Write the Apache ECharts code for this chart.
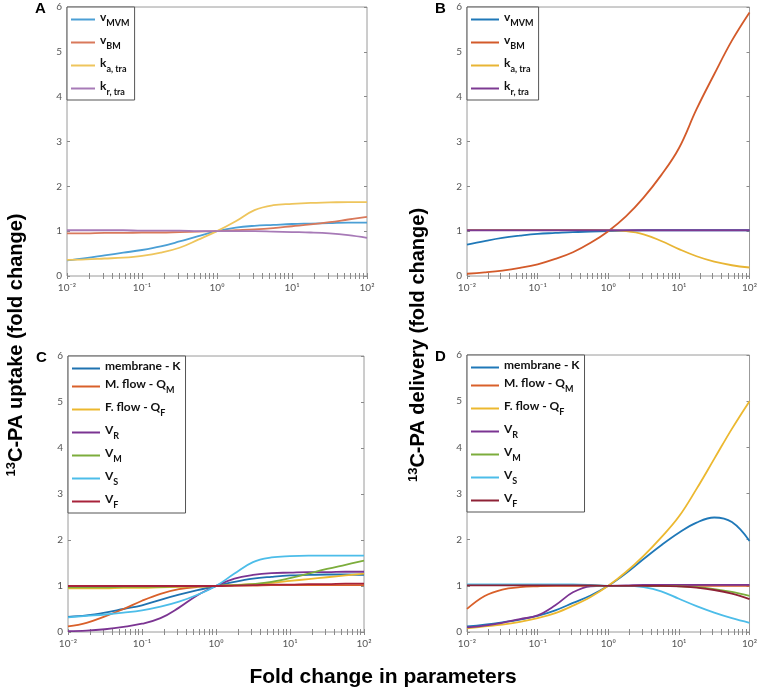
<!DOCTYPE html>
<html>
<head>
<meta charset="utf-8">
<script src="https://cdn.jsdelivr.net/npm/echarts@6/dist/echarts.min.js"></script>
<style>
  html, body { margin: 0; padding: 0; background: #fff; }
  #chart { width: 760px; height: 690px; }
</style>
</head>
<body>
<div id="chart"></div>
<script>
// log10 of the x values (fold change in parameters)
const xExp = [-2, -1.75, -1.5, -1.25, -1, -0.75, -0.5, -0.25, 0, 0.25, 0.5, 0.75, 1, 1.25, 1.5, 1.75, 2]
const xTickLabels = ["10\u207b\u00b2", "10\u207b\u00b9", "10\u2070", "10\u00b9", "10\u00b2"]
const yTicks = [0, 1, 2, 3, 4, 5, 6]

// panel A - uptake
const aMVM = [0.35, 0.40, 0.46, 0.52, 0.58, 0.66, 0.77, 0.89, 1.00, 1.08, 1.12, 1.14, 1.16, 1.17, 1.18, 1.19, 1.19]
const aBM = [0.95, 0.95, 0.96, 0.96, 0.97, 0.97, 0.98, 0.99, 1.00, 1.02, 1.04, 1.07, 1.11, 1.15, 1.20, 1.26, 1.32]
const aKa = [0.36, 0.37, 0.39, 0.41, 0.45, 0.52, 0.63, 0.81, 1.00, 1.22, 1.47, 1.58, 1.61, 1.63, 1.64, 1.65, 1.65]
const aKr = [1.02, 1.02, 1.02, 1.02, 1.01, 1.01, 1.01, 1.00, 1.00, 1.00, 1.00, 0.99, 0.98, 0.97, 0.95, 0.91, 0.85]

// panel B - delivery
const bMVM = [0.70, 0.78, 0.85, 0.90, 0.94, 0.96, 0.98, 0.99, 1.00, 1.01, 1.02, 1.02, 1.02, 1.02, 1.02, 1.02, 1.02]
const bBM = [0.05, 0.08, 0.12, 0.18, 0.26, 0.38, 0.53, 0.74, 1.00, 1.33, 1.75, 2.25, 2.85, 3.72, 4.50, 5.25, 5.88]
const bKa = [1.03, 1.03, 1.03, 1.03, 1.03, 1.03, 1.03, 1.03, 1.02, 1.00, 0.93, 0.78, 0.60, 0.44, 0.32, 0.24, 0.19]
const bKr = [1.02, 1.02, 1.02, 1.02, 1.02, 1.02, 1.02, 1.02, 1.02, 1.02, 1.02, 1.02, 1.02, 1.02, 1.02, 1.02, 1.02]

// panel C - uptake
const cK = [0.33, 0.36, 0.42, 0.50, 0.58, 0.70, 0.81, 0.91, 1.00, 1.09, 1.16, 1.20, 1.23, 1.24, 1.25, 1.25, 1.24]
const cQM = [0.12, 0.20, 0.34, 0.50, 0.68, 0.83, 0.93, 0.98, 1.00, 1.01, 1.01, 1.02, 1.02, 1.02, 1.02, 1.02, 1.02]
const cQF = [0.95, 0.95, 0.95, 0.96, 0.96, 0.97, 0.98, 0.99, 1.00, 1.02, 1.04, 1.07, 1.11, 1.15, 1.19, 1.23, 1.27]
const cVR = [0.02, 0.03, 0.06, 0.11, 0.18, 0.30, 0.53, 0.80, 1.00, 1.16, 1.24, 1.28, 1.29, 1.30, 1.30, 1.31, 1.31]
const cVM = [0.97, 0.97, 0.97, 0.98, 0.98, 0.98, 0.99, 0.99, 1.00, 1.02, 1.04, 1.09, 1.17, 1.27, 1.37, 1.46, 1.55]
const cVS = [0.32, 0.35, 0.38, 0.42, 0.47, 0.55, 0.66, 0.81, 1.00, 1.27, 1.52, 1.62, 1.65, 1.66, 1.66, 1.66, 1.66]
const cVF = [1.00, 1.00, 1.00, 1.00, 1.00, 1.00, 1.00, 1.00, 1.00, 1.01, 1.02, 1.03, 1.03, 1.04, 1.04, 1.05, 1.05]

// panel D - delivery
const dK = [0.12, 0.16, 0.21, 0.27, 0.35, 0.47, 0.63, 0.79, 1.00, 1.27, 1.58, 1.88, 2.15, 2.37, 2.48, 2.38, 1.97]
const dQM = [0.50, 0.78, 0.92, 0.97, 0.99, 1.00, 1.00, 1.00, 1.00, 1.00, 1.00, 1.00, 1.00, 1.00, 1.00, 1.00, 1.00]
const dQF = [0.08, 0.12, 0.16, 0.22, 0.30, 0.41, 0.57, 0.76, 1.00, 1.30, 1.65, 2.05, 2.50, 3.10, 3.75, 4.40, 5.00]
const dVR = [0.10, 0.14, 0.20, 0.28, 0.36, 0.58, 0.86, 0.99, 1.00, 1.01, 1.02, 1.02, 1.02, 1.02, 1.02, 1.02, 1.02]
const dVM = [1.02, 1.02, 1.02, 1.02, 1.02, 1.02, 1.02, 1.01, 1.00, 1.00, 1.00, 1.00, 0.99, 0.97, 0.93, 0.87, 0.78]
const dVS = [1.03, 1.03, 1.03, 1.03, 1.03, 1.03, 1.03, 1.02, 1.00, 1.00, 0.97, 0.88, 0.72, 0.56, 0.42, 0.30, 0.20]
const dVF = [1.01, 1.01, 1.01, 1.01, 1.01, 1.01, 1.01, 1.01, 1.00, 1.00, 1.00, 1.00, 0.99, 0.96, 0.91, 0.83, 0.71]

const legendFont = "Lato, 'Open Sans', sans-serif"
const tickFont = "Lato, 'Open Sans', sans-serif"
const titleFont = "'Liberation Sans', Arial, sans-serif"

// label -> rich text (main part, subscript)
const labelParts = {
  v_MVM: ["v", "MVM"], v_BM: ["v", "BM"], k_atra: ["k", "a, tra"], k_rtra: ["k", "r, tra"],
  K: ["membrane - K", ""], QM: ["M. flow - Q", "M"], QF: ["F. flow - Q", "F"],
  VR: ["V", "R"], VM: ["V", "M"], VS: ["V", "S"], VF: ["V", "F"]
}

const panels = [
  {
    letter: "A", grid: { left: 67, top: 7, width: 300, height: 269 }, iconWidth: 24,
    series: [
      { key: "v_MVM", data: aMVM, color: "#4b9fd5" },
      { key: "v_BM", data: aBM, color: "#d9795b" },
      { key: "k_atra", data: aKa, color: "#eec55c" },
      { key: "k_rtra", data: aKr, color: "#a77ab7" }
    ]
  },
  {
    letter: "B", grid: { left: 467, top: 7, width: 284, height: 269 }, iconWidth: 28,
    series: [
      { key: "v_MVM", data: bMVM, color: "#1f78b8" },
      { key: "v_BM", data: bBM, color: "#d35a2a" },
      { key: "k_atra", data: bKa, color: "#e8b534" },
      { key: "k_rtra", data: bKr, color: "#7d3a92" }
    ]
  },
  {
    letter: "C", grid: { left: 68, top: 356, width: 296, height: 276 }, iconWidth: 28,
    series: [
      { key: "K", data: cK, color: "#1f72b0" },
      { key: "QM", data: cQM, color: "#d9602a" },
      { key: "QF", data: cQF, color: "#ecb82f" },
      { key: "VR", data: cVR, color: "#7b3492" },
      { key: "VM", data: cVM, color: "#7cad3c" },
      { key: "VS", data: cVS, color: "#4cbde9" },
      { key: "VF", data: cVF, color: "#a8233a" }
    ]
  },
  {
    letter: "D", grid: { left: 467, top: 355, width: 285, height: 277 }, iconWidth: 28,
    series: [
      { key: "K", data: dK, color: "#1f78b8" },
      { key: "QM", data: dQM, color: "#d9602a" },
      { key: "QF", data: dQF, color: "#ecb82f" },
      { key: "VR", data: dVR, color: "#7b3492" },
      { key: "VM", data: dVM, color: "#7cad3c" },
      { key: "VS", data: dVS, color: "#4cbde9" },
      { key: "VF", data: dVF, color: "#8e2236" }
    ]
  }
]

const majorTicks = xExp.filter((e) => Number.isInteger(e)).map((e) => Math.pow(10, e))
const allTicks = []
for (let d = -2; d < 2; d++) {
  for (let m = 1; m < 10; m++) allTicks.push(m * Math.pow(10, d))
}
allTicks.push(100)

const grids = []
const xAxes = []
const yAxes = []
const seriesList = []
const legends = []
const graphics = []

panels.forEach((panel, p) => {
  grids.push({ ...panel.grid, show: true, borderColor: "#9a9a9a", borderWidth: 1, backgroundColor: "#fff" })

  const xBase = {
    type: "log", logBase: 10, min: 0.01, max: 100, gridIndex: p,
    axisLine: { show: false }, splitLine: { show: false },
    axisTick: { show: true, inside: true, length: 3, lineStyle: { color: "#8a8a8a" }, customValues: allTicks }
  }
  xAxes.push({
    ...xBase, position: "bottom",
    axisLabel: {
      color: "#555", fontSize: 10, fontFamily: tickFont, margin: 7,
      customValues: majorTicks,
      formatter: (v) => xTickLabels[Math.round(Math.log10(v)) + 2]
    }
  })
  xAxes.push({ ...xBase, position: "top", axisLabel: { show: false } })

  const yBase = {
    type: "value", min: 0, max: 6, interval: 1, gridIndex: p,
    axisLine: { show: false }, splitLine: { show: false },
    axisTick: { show: true, inside: true, length: 3, lineStyle: { color: "#8a8a8a" } }
  }
  yAxes.push({
    ...yBase, position: "left",
    axisLabel: { color: "#555", fontSize: 10, fontFamily: tickFont, margin: 5, formatter: (v) => yTicks.includes(v) ? String(v) : "" }
  })
  yAxes.push({ ...yBase, position: "right", axisLabel: { show: false } })

  const names = []
  panel.series.forEach((s) => {
    const name = panel.letter + ":" + s.key
    names.push(name)
    seriesList.push({
      name,
      type: "line",
      xAxisIndex: p * 2,
      yAxisIndex: p * 2,
      smooth: 0.4,
      showSymbol: false,
      animation: false,
      color: s.color,
      lineStyle: { width: 1.8, color: s.color },
      data: xExp.map((e, i) => [Math.pow(10, e), s.data[i]])
    })
  })

  legends.push({
    data: names,
    orient: "vertical",
    left: panel.grid.left,
    top: panel.grid.top,
    icon: "rect",
    itemWidth: panel.iconWidth,
    itemHeight: 2,
    itemGap: 6,
    padding: [4, 5, 3, 4],
    backgroundColor: "#fff",
    borderColor: "#555",
    borderWidth: 1,
    borderRadius: 0,
    selectedMode: false,
    textStyle: {
      fontFamily: legendFont,
      rich: {
        m: { fontSize: 12, fontWeight: "bold", color: "#111", fontFamily: legendFont, padding: [0, 0, 5, 0] },
        s: { fontSize: 9, fontWeight: "bold", color: "#111", fontFamily: legendFont, padding: [8, 0, 0, 0] }
      }
    },
    formatter: (name) => {
      const parts = labelParts[name.split(":")[1]]
      return parts[1] ? `{m|${parts[0]}}{s|${parts[1]}}` : `{m|${parts[0]}}`
    }
  })

  graphics.push({
    type: "text",
    left: panel.grid.left - 32,
    top: panel.grid.top - 6,
    style: { text: panel.letter, font: "bold 15px " + titleFont, fill: "#000" }
  })
})

const titleRich = {
  sup: { fontSize: 13, fontWeight: "bold", fontFamily: titleFont, fill: "#000", padding: [0, 0, 9, 0] },
  t: { fontSize: 20, fontWeight: "bold", fontFamily: titleFont, fill: "#000" }
}

graphics.push({
  type: "text", x: 16, y: 345, rotation: Math.PI / 2,
  style: { text: "{sup|13}{t|C-PA uptake (fold change)}", rich: titleRich, align: "center", verticalAlign: "middle" }
})
graphics.push({
  type: "text", x: 418, y: 345, rotation: Math.PI / 2,
  style: { text: "{sup|13}{t|C-PA delivery (fold change)}", rich: titleRich, align: "center", verticalAlign: "middle" }
})
graphics.push({
  type: "text", x: 383, y: 677,
  style: { text: "Fold change in parameters", font: "bold 21px " + titleFont, fill: "#000", align: "center", verticalAlign: "middle" }
})

const chart = echarts.init(document.getElementById("chart"), null, { renderer: "canvas" })
chart.setOption({
  backgroundColor: "#fff",
  animation: false,
  grid: grids,
  xAxis: xAxes,
  yAxis: yAxes,
  legend: legends,
  series: seriesList,
  graphic: graphics
})
</script>
</body>
</html>
